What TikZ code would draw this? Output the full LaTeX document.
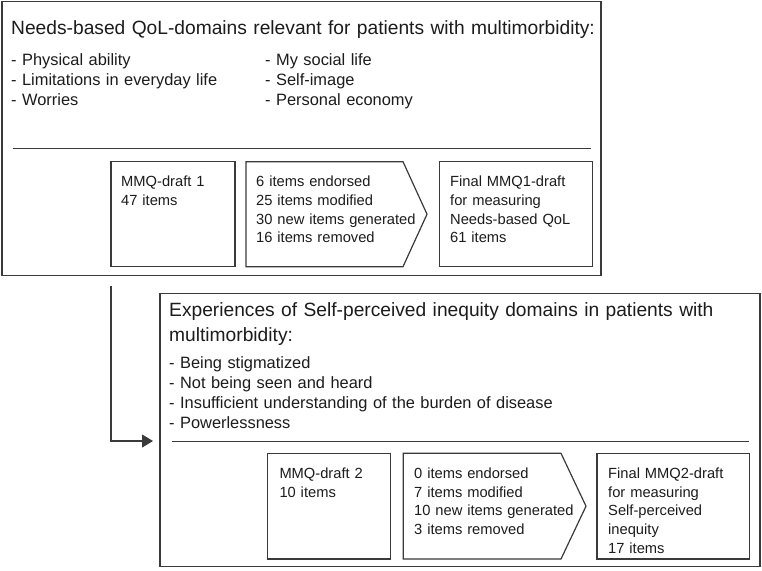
\documentclass[tikz,border=0pt]{standalone}
\usepackage{fontspec}
\setmainfont{Liberation Sans}
\usetikzlibrary{arrows.meta}
\definecolor{ln}{HTML}{3A3A3A}
\definecolor{tx}{HTML}{1C1C1C}
\tikzset{
  frame/.style={draw=ln, line width=1.3pt, inner sep=0pt, outer sep=0pt, anchor=north west},
  sbox/.style={draw=ln, line width=1.2pt, inner sep=0pt, outer sep=0pt, anchor=north west},
  chevron/.style={draw=ln, line width=1.2pt},
  ttl/.style={font=\fontsize{19.2}{24.3}\selectfont, text=tx, inner sep=0pt, anchor=base west, text width=600pt, align=left},
  lst/.style={font=\fontsize{16.4}{20}\selectfont, text=tx, inner sep=0pt, anchor=base west, text width=400pt, align=left},
  btx/.style={font=\fontsize{14.7}{18.7}\selectfont, text=tx, inner sep=0pt, anchor=base west, text width=250pt, align=left},
  sepline/.style={draw=ln, line width=1pt},
  conn/.style={draw=ln, line width=1.2pt, -{Triangle[length=11pt,width=13pt]}}
}
\begin{document}
\begin{tikzpicture}[x=1pt,y=-1pt]
\useasboundingbox[fill=white] (0,0) rectangle (762,570);

% ---------- top frame ----------
\node[frame, minimum width=599pt, minimum height=274pt] (top) at (2,1.5) {};
\node[ttl] (t1) at (11,34.3) {Needs-based QoL-domains relevant for patients with multimorbidity:};
\node[lst] (l1a) at (11,65.7) {- Physical ability\\- Limitations in everyday life\\- Worries};
\node[lst] (l1b) at (265,65.7) {- My social life\\- Self-image\\- Personal economy};
\coordinate (s1a) at (12.7,148.3);
\coordinate (s1b) at (590.7,148.3);
\draw[sepline] (s1a) -- (s1b);

\node[sbox, minimum width=124pt, minimum height=105pt] (b1) at (111,161.7) {};
\node[btx] (b1t) at (121,186.7) {MMQ-draft 1\\47 items};
\draw[chevron] (246,161.7) -- (403,161.7) -- (427,214.2) -- (403,266.7) -- (246,266.7) -- cycle;
\node[btx] (a1t) at (256,186.7) {6 items endorsed\\25 items modified\\30 new items generated\\16 items removed};
\node[sbox, minimum width=153.4pt, minimum height=105pt] (f1) at (439.3,161.7) {};
\node[btx] (f1t) at (450,186.7) {Final MMQ1-draft\\for measuring\\Needs-based QoL\\61 items};

% ---------- bottom frame ----------
\node[frame, minimum width=600pt, minimum height=273.2pt] (bot) at (160,293.5) {};
\node[ttl] (t2) at (169,316.7) {Experiences of Self-perceived inequity domains in patients with\\multimorbidity:};
\node[lst] (l2) at (169,368) {- Being stigmatized\\- Not being seen and heard\\- Insufficient understanding of the burden of disease\\- Powerlessness};
\coordinate (s2a) at (171.7,441);
\coordinate (s2b) at (749.3,441);
\draw[sepline] (s2a) -- (s2b);

\node[sbox, minimum width=123pt, minimum height=105.7pt] (b2) at (267.7,453.3) {};
\node[btx] (b2t) at (279.3,478.3) {MMQ-draft 2\\10 items};
\draw[chevron] (403.3,453.3) -- (561,453.3) -- (586,506.2) -- (561,559) -- (403.3,559) -- cycle;
\node[btx] (a2t) at (414,478.3) {0 items endorsed\\7 items modified\\10 new items generated\\3 items removed};
\node[sbox, minimum width=152.3pt, minimum height=105.7pt] (f2) at (597,453.3) {};
\node[btx] (f2t) at (608,478.3) {Final MMQ2-draft\\for measuring\\Self-perceived\\inequity\\17 items};

% ---------- connector ----------
\coordinate (cs) at (111,286);
\coordinate (ce) at (153,441);
\draw[conn] (cs) |- (ce);
\end{tikzpicture}
\end{document}
